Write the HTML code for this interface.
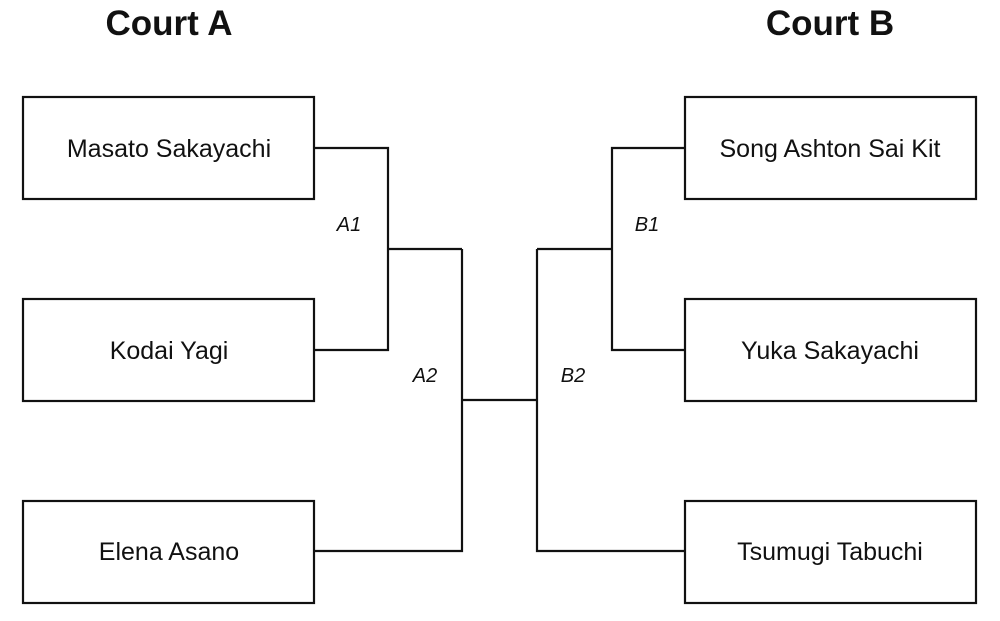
<!DOCTYPE html>
<html><head><style>
body{margin:0;background:#fff;}
svg{display:block}
text{font-family:"Liberation Sans",sans-serif;fill:#111}
.n{font-size:25px;text-anchor:middle}
.l{font-size:20px;font-style:italic;text-anchor:middle}
.t{font-size:35px;font-weight:bold;text-anchor:middle}
</style></head><body>
<svg width="1000" height="621" viewBox="0 0 1000 621" xmlns="http://www.w3.org/2000/svg">
<g fill="none" stroke="#111" stroke-width="2.2">
<rect x="23" y="97" width="291" height="102"/>
<rect x="23" y="299" width="291" height="102"/>
<rect x="23" y="501" width="291" height="102"/>
<rect x="685" y="97" width="291" height="102"/>
<rect x="685" y="299" width="291" height="102"/>
<rect x="685" y="501" width="291" height="102"/>
<polyline points="314,148 388,148 388,350 314,350"/>
<line x1="388" y1="249" x2="462" y2="249"/>
<polyline points="462,249 462,551 314,551"/>
<line x1="462" y1="400" x2="537" y2="400"/>
<polyline points="685,148 612,148 612,350 685,350"/>
<line x1="612" y1="249" x2="537" y2="249"/>
<polyline points="537,249 537,551 685,551"/>
</g>
<text class="t" x="169" y="35">Court A</text>
<text class="t" x="830" y="35">Court B</text>
<text class="n" x="169" y="157">Masato Sakayachi</text>
<text class="n" x="169" y="359">Kodai Yagi</text>
<text class="n" x="169" y="560">Elena Asano</text>
<text class="n" x="830" y="157">Song Ashton Sai Kit</text>
<text class="n" x="830" y="359">Yuka Sakayachi</text>
<text class="n" x="830" y="560">Tsumugi Tabuchi</text>
<text class="l" x="349" y="231">A1</text>
<text class="l" x="425" y="382">A2</text>
<text class="l" x="647" y="231">B1</text>
<text class="l" x="573" y="382">B2</text>
</svg>
</body></html>
